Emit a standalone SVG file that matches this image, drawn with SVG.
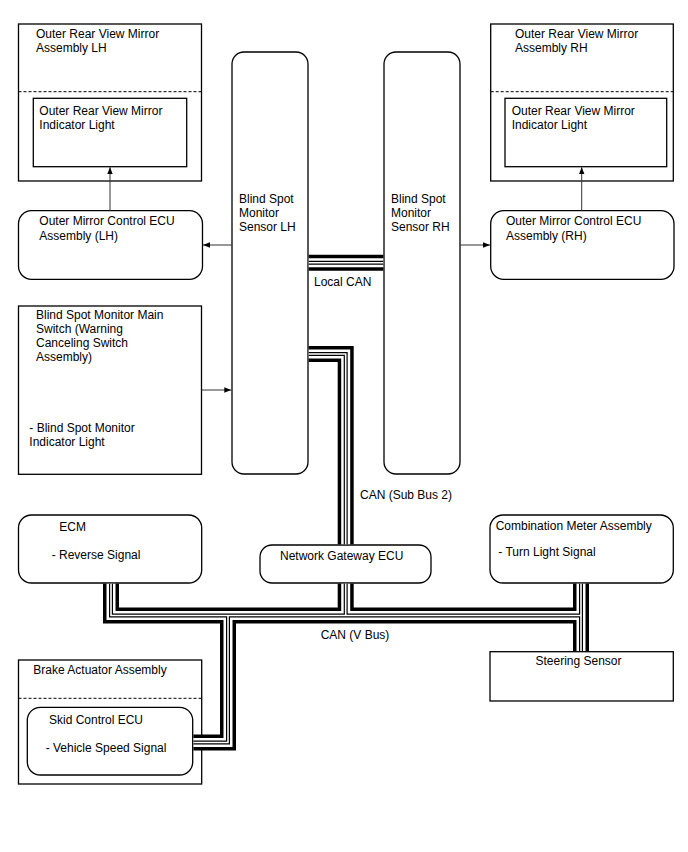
<svg xmlns="http://www.w3.org/2000/svg" width="688" height="852" viewBox="0 0 688 852">
<defs>
<marker id="ah" viewBox="0 0 10 10" refX="10" refY="5" markerWidth="7" markerHeight="7" markerUnits="userSpaceOnUse" orient="auto"><path d="M0,1 L10,5 L0,9 z" fill="#000"/></marker>
<style>
.box{fill:#fff;stroke:#000;stroke-width:1.3}
.dash{fill:none;stroke:#000;stroke-width:1;stroke-dasharray:3 2}
.arr{fill:none;stroke:#333;stroke-width:1;marker-end:url(#ah)}
text{font-family:"Liberation Sans",Arial,sans-serif;font-size:12px;fill:#000}
.b1{fill:none;stroke:#000;stroke-width:16;stroke-linejoin:miter}
.b2{fill:none;stroke:#fff;stroke-width:9;stroke-linejoin:miter}
.b3{fill:none;stroke:#000;stroke-width:4;stroke-linejoin:miter}
.b4{fill:none;stroke:#fff;stroke-width:1.6;stroke-linejoin:miter}
</style>
<path id="busLocal" d="M308.7 262.8 H383.3"/>
<path id="busSub" d="M308.7 354 H345.7 V544.3"/>
<path id="busV1" d="M111 583.7 V615.5 H581"/>
<path id="busV2" d="M345.7 583.7 V615.5"/>
<path id="busV3" d="M228 615.5 V742.5 H193.4"/>
<path id="busV4" d="M581 583.7 V651"/>
</defs>

<g id="mirror-lh">
<rect class="box" x="18.5" y="24" width="183" height="157"/>
<line class="dash" x1="18.5" y1="91.7" x2="201.5" y2="91.7"/>
<text x="36" y="38">Outer Rear View Mirror</text>
<text x="36" y="52">Assembly LH</text>
</g>
<g id="mirror-lh-indicator">
<rect class="box" x="33.3" y="98.3" width="153.4" height="68.4"/>
<text x="39.3" y="115">Outer Rear View Mirror</text>
<text x="39.3" y="129">Indicator Light</text>
</g>
<g id="mirror-ecu-lh">
<rect class="box" x="18.5" y="210.7" width="184" height="68.6" rx="13"/>
<text x="39.3" y="225">Outer Mirror Control ECU</text>
<text x="39.3" y="239.5">Assembly (LH)</text>
</g>
<g id="bsm-switch">
<rect class="box" x="18.5" y="306" width="183" height="168.3"/>
<text x="36" y="319">Blind Spot Monitor Main</text>
<text x="36" y="333">Switch (Warning</text>
<text x="36" y="347">Canceling Switch</text>
<text x="36" y="361">Assembly)</text>
<text x="29.3" y="432">- Blind Spot Monitor</text>
<text x="29.3" y="446">Indicator Light</text>
</g>
<g id="bsm-sensor-lh">
<rect class="box" x="232" y="52" width="76" height="422" rx="12"/>
<text x="239" y="203">Blind Spot</text>
<text x="239" y="217">Monitor</text>
<text x="239" y="231">Sensor LH</text>
</g>
<g id="bsm-sensor-rh">
<rect class="box" x="384" y="52" width="76" height="422" rx="12"/>
<text x="391" y="203">Blind Spot</text>
<text x="391" y="217">Monitor</text>
<text x="391" y="231">Sensor RH</text>
</g>
<g id="mirror-rh">
<rect class="box" x="490.7" y="24" width="182.6" height="157"/>
<line class="dash" x1="490.7" y1="91.7" x2="673.3" y2="91.7"/>
<text x="515" y="38">Outer Rear View Mirror</text>
<text x="515" y="52">Assembly RH</text>
</g>
<g id="mirror-rh-indicator">
<rect class="box" x="505" y="98.3" width="161.7" height="68.4"/>
<text x="511.7" y="115">Outer Rear View Mirror</text>
<text x="511.7" y="129">Indicator Light</text>
</g>
<g id="mirror-ecu-rh">
<rect class="box" x="490.7" y="210.7" width="183.3" height="68.6" rx="13"/>
<text x="506" y="225">Outer Mirror Control ECU</text>
<text x="506" y="239.5">Assembly (RH)</text>
</g>
<g id="ecm">
<rect class="box" x="18.5" y="515" width="183.2" height="68" rx="13"/>
<text x="59.3" y="531">ECM</text>
<text x="51.7" y="558.5">- Reverse Signal</text>
</g>
<g id="gateway">
<rect class="box" x="260" y="545" width="171" height="38" rx="12"/>
<text x="280" y="559.5">Network Gateway ECU</text>
</g>
<g id="combination-meter">
<rect class="box" x="490" y="515" width="183.3" height="68" rx="13"/>
<text x="495.7" y="530">Combination Meter Assembly</text>
<text x="498.3" y="556">- Turn Light Signal</text>
</g>
<g id="steering-sensor">
<rect class="box" x="490" y="651.7" width="183.3" height="49.3"/>
<text x="578.5" y="665" text-anchor="middle">Steering Sensor</text>
</g>
<g id="brake-actuator">
<rect class="box" x="18.5" y="660" width="183.2" height="124"/>
<line class="dash" x1="18.5" y1="698.3" x2="201.7" y2="698.3"/>
<text x="33.3" y="673.5">Brake Actuator Assembly</text>
</g>
<g id="skid-control-ecu">
<rect class="box" x="27.3" y="707.3" width="165.4" height="67.7" rx="13"/>
<text x="49" y="724">Skid Control ECU</text>
<text x="45.7" y="752">- Vehicle Speed Signal</text>
</g>

<g id="connectors">
<line class="arr" x1="110" y1="210.7" x2="110" y2="167.3"/>
<line class="arr" x1="232" y1="245" x2="203" y2="245"/>
<line class="arr" x1="201.7" y1="390" x2="231.3" y2="390"/>
<line class="arr" x1="581.7" y1="210.7" x2="581.7" y2="167.3"/>
<line class="arr" x1="460" y1="245" x2="490" y2="245"/>
<g class="b1"><use href="#busLocal"/><use href="#busSub"/><use href="#busV1"/><use href="#busV2"/><use href="#busV3"/><use href="#busV4"/></g>
<g class="b2"><use href="#busLocal"/><use href="#busSub"/><use href="#busV1"/><use href="#busV2"/><use href="#busV3"/><use href="#busV4"/></g>
<g class="b3"><use href="#busLocal"/><use href="#busSub"/><use href="#busV1"/><use href="#busV2"/><use href="#busV3"/><use href="#busV4"/></g>
<g class="b4"><use href="#busLocal"/><use href="#busSub"/><use href="#busV1"/><use href="#busV2"/><use href="#busV3"/><use href="#busV4"/></g>
<text x="314" y="285.5">Local CAN</text>
<text x="360" y="499">CAN (Sub Bus 2)</text>
<text x="320.7" y="639">CAN (V Bus)</text>
</g>
</svg>
